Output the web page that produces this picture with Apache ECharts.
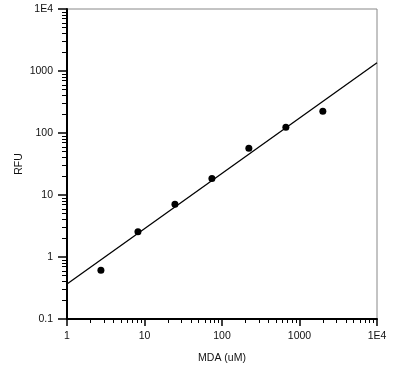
<!DOCTYPE html>
<html>
<head>
<meta charset="utf-8">
<script src="https://cdn.jsdelivr.net/npm/echarts@6/dist/echarts.min.js"></script>
<style>html,body{margin:0;padding:0;background:#fff}#c{width:400px;height:372px}</style>
</head>
<body>
<div id="c"></div>
<script>
const mdaValues = [2.74, 8.23, 24.7, 74.1, 222, 667, 2000];
const rfuValues = [0.61, 2.55, 7.1, 18.5, 57, 124, 225];
const fitX = [1, 10000];
const fitY = [0.367, 1360];
const xTickLabels = {1: '1', 10: '10', 100: '100', 1000: '1000', 10000: '1E4'};
const yTickLabels = {0.1: '0.1', 1: '1', 10: '10', 100: '100', 1000: '1000', 10000: '1E4'};

function minorValues(lo, hi) {
  const out = [];
  for (let d = lo; d < hi; d *= 10) {
    for (let k = 2; k <= 9; k++) out.push(+(d * k).toPrecision(6));
  }
  return out;
}
function fmt(map) {
  return function (v) {
    for (const k in map) { if (Math.abs(Math.log10(v) - Math.log10(+k)) < 1e-6) return map[k]; }
    return '';
  };
}

const chart = echarts.init(document.getElementById('c'), null, {renderer: 'canvas'});
const labelStyle = {color: '#111', fontSize: 10.5, fontFamily: 'Liberation Sans, Arial, sans-serif'};
chart.setOption({
  animation: false,
  grid: {left: 67, top: 9, width: 310, height: 310, show: true, borderColor: '#888', borderWidth: 1, backgroundColor: 'transparent'},
  xAxis: [{
    type: 'log', logBase: 10, min: 1, max: 10000, position: 'bottom',
    name: 'MDA (uM)', nameLocation: 'middle', nameGap: 34, nameMoveOverlap: false,
    nameTextStyle: labelStyle,
    axisLine: {show: true, onZero: false, lineStyle: {color: '#000', width: 2}},
    axisTick: {show: true, inside: false, length: 7, lineStyle: {color: '#000', width: 1.5}},
    axisLabel: Object.assign({margin: 12, formatter: fmt(xTickLabels)}, labelStyle),
    splitLine: {show: false}, minorTick: {show: false}
  }, {
    type: 'log', logBase: 10, min: 1, max: 10000, position: 'bottom',
    axisLine: {show: false},
    axisTick: {show: true, inside: false, length: 4, lineStyle: {color: '#000', width: 1}, customValues: minorValues(1, 10000)},
    axisLabel: {show: false},
    splitLine: {show: false}
  }],
  yAxis: [{
    type: 'log', logBase: 10, min: 0.1, max: 10000, position: 'left',
    name: 'RFU', nameLocation: 'middle', nameGap: 42, nameRotate: 90, nameMoveOverlap: false,
    nameTextStyle: labelStyle,
    axisLine: {show: true, onZero: false, lineStyle: {color: '#000', width: 2}},
    axisTick: {show: true, inside: false, length: 9, lineStyle: {color: '#000', width: 1.5}},
    axisLabel: Object.assign({margin: 14, formatter: fmt(yTickLabels)}, labelStyle),
    splitLine: {show: false}, minorTick: {show: false}
  }, {
    type: 'log', logBase: 10, min: 0.1, max: 10000, position: 'left',
    axisLine: {show: false},
    axisTick: {show: true, inside: false, length: 5, lineStyle: {color: '#000', width: 1}, customValues: minorValues(0.1, 10000)},
    axisLabel: {show: false},
    splitLine: {show: false}
  }],
  series: [{
    type: 'line', xAxisIndex: 0, yAxisIndex: 0,
    data: fitX.map((x, i) => [x, fitY[i]]),
    showSymbol: false, symbol: 'none',
    lineStyle: {color: '#000', width: 1.3}, clip: true
  }, {
    type: 'scatter', xAxisIndex: 0, yAxisIndex: 0,
    data: mdaValues.map((x, i) => [x, rfuValues[i]]),
    symbol: 'circle', symbolSize: 7,
    itemStyle: {color: '#000', opacity: 1}
  }]
});
</script>
</body>
</html>
